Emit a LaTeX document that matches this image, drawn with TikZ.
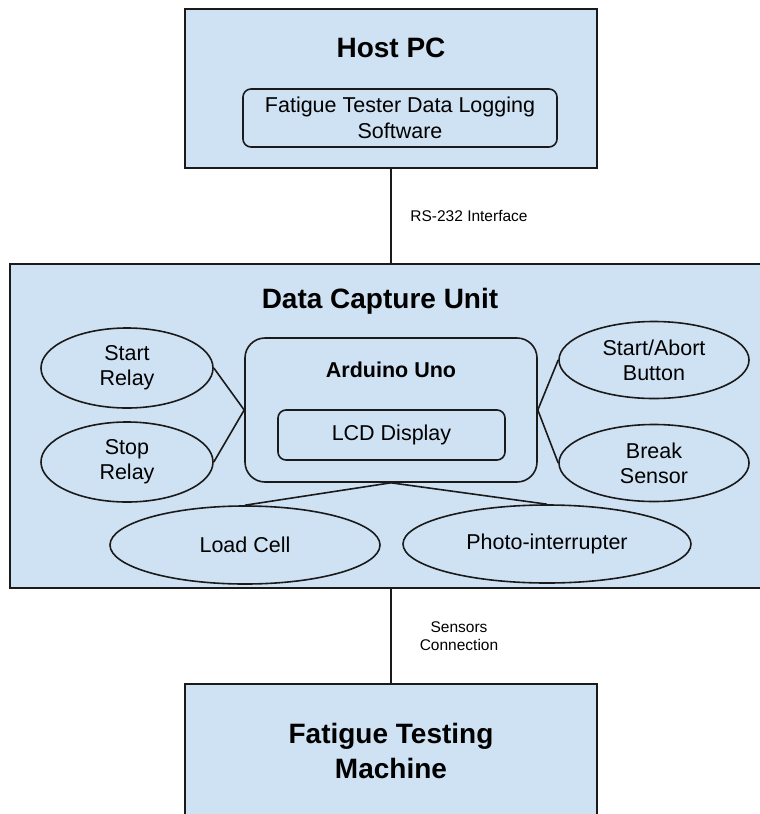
\documentclass[tikz,border=0pt]{standalone}
\usepackage{fontspec}
\setmainfont{Liberation Sans}
\usetikzlibrary{shapes.geometric}
\definecolor{boxfill}{HTML}{CFE2F3}
\definecolor{edge}{HTML}{1A1A1A}
\tikzset{
  panel/.style={draw=edge, line width=1.6pt, fill=boxfill, inner sep=0pt},
  roundbox/.style={panel, rounded corners=#1},
  oval/.style={draw=edge, line width=1.6pt, fill=boxfill, ellipse, inner sep=0pt,
    align=center, font=\fontsize{21.5}{25}\selectfont},
  title/.style={font=\fontsize{28}{35}\selectfont\bfseries, align=center, inner sep=0pt},
  body/.style={font=\fontsize{21.5}{26}\selectfont, align=center, inner sep=0pt},
  note/.style={font=\fontsize{15.5}{18.5}\selectfont, align=center, inner sep=0pt},
  wire/.style={draw=edge, line width=1.6pt}
}
\begin{document}
\begin{tikzpicture}[x=1pt, y=-1pt]
  \useasboundingbox (0,0) rectangle (760,814);

  % Host PC
  \node[panel, minimum width=412pt, minimum height=159pt] (host) at (391,88.5) {};
  \node[title] (hostT) at (391,48) {Host PC};
  \node[roundbox=8pt, minimum width=314pt, minimum height=58pt] (soft) at (400,118) {};
  \node[body] (softT) at (400,118) {Fatigue Tester Data Logging\\Software};

  % Data capture unit
  \node[panel, minimum width=753pt, minimum height=324pt] (dcu) at (386.5,426) {};
  \node[title] (dcuT) at (380,301) {Data Capture Unit};
  \node[roundbox=20pt, minimum width=292pt, minimum height=144pt] (ard) at (391,410) {};
  \node[body, font=\fontsize{21.5}{26}\selectfont\bfseries] (ardT) at (391,370) {Arduino Uno};
  \node[roundbox=8pt, minimum width=227pt, minimum height=50pt] (lcd) at (391.5,435) {};
  \node[body] (lcdT) at (391.5,435) {LCD Display};

  \node[oval, minimum width=172pt, minimum height=80pt] (startR) at (127,368) {Start\\Relay};
  \node[oval, minimum width=172pt, minimum height=80pt] (stopR) at (127,462) {Stop\\Relay};
  \node[oval, minimum width=190pt, minimum height=77pt] (abort) at (654,360) {Start/Abort\\Button};
  \node[oval, minimum width=190pt, minimum height=77pt] (brk) at (654,463) {Break\\Sensor};
  \node[oval, minimum width=270pt, minimum height=78pt] (load) at (245,545) {Load Cell};
  \node[oval, minimum width=288pt, minimum height=78pt] (photo) at (547,544) {Photo-interrupter};

  \draw[wire] (startR.east) -- (ard.west);
  \draw[wire] (stopR.east) -- (ard.west);
  \draw[wire] (abort.west) -- (ard.east);
  \draw[wire] (brk.west) -- (ard.east);
  \draw[wire] (ard.south) -- (load.north);
  \draw[wire] (ard.south) -- (photo.north);

  % Fatigue testing machine
  \node[panel, minimum width=412pt, minimum height=166pt] (ftm) at (391,767) {};
  \node[title] (ftmT) at (391,751) {Fatigue Testing\\Machine};

  % Links between the units
  \draw[wire] (host.south) -- (host.south |- dcu.north);
  \node[note] (rs) at (469,216) {RS-232 Interface};
  \draw[wire] (ftm.north |- dcu.south) -- (ftm.north);
  \node[note] (sens) at (459,636) {Sensors\\Connection};
\end{tikzpicture}
\end{document}
